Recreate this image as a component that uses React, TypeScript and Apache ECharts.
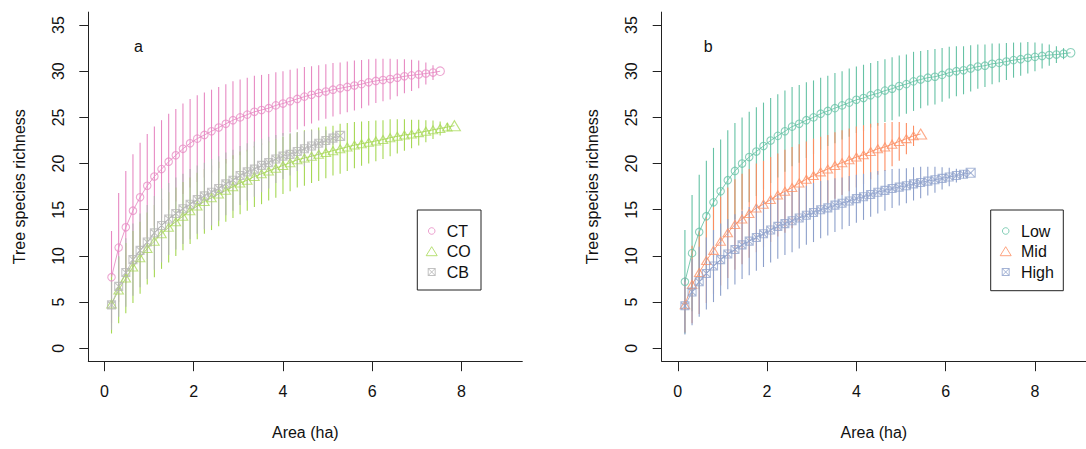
import React, { useEffect, useRef } from "react";
import * as echarts from "echarts";

// ---------- data ----------
const AREA_PER_PLOT_HA = 0.16;
const X_TICKS = [0, 2, 4, 6, 8];
const Y_TICKS = [0, 5, 10, 15, 20, 25, 30, 35];

// Panel a
const ctRichness = [7.7, 10.9, 13.1, 14.9, 16.35, 17.6, 18.6, 19.4, 20.2, 20.9,
  21.6, 22.2, 22.7, 23.1, 23.5, 23.9, 24.3, 24.7, 25.0, 25.3,
  25.6, 25.8, 26.0, 26.3, 26.5, 26.75, 27.0, 27.25, 27.45, 27.65,
  27.8, 28.0, 28.15, 28.3, 28.45, 28.6, 28.8, 28.95, 29.05, 29.15,
  29.3, 29.45, 29.55, 29.65, 29.75, 29.85, 30.0];
const ctCi = [5.0, 5.9, 6.1, 6.1, 5.9, 5.6, 5.4, 5.3, 5.2, 5.0,
  4.9, 4.8, 4.7, 4.6, 4.5, 4.4, 4.3, 4.2, 4.1, 4.0,
  3.9, 3.8, 3.7, 3.6, 3.5, 3.4, 3.3, 3.2, 3.1, 3.0,
  2.95, 2.9, 2.8, 2.75, 2.7, 2.6, 2.5, 2.4, 2.3, 2.2,
  2.0, 1.85, 1.7, 1.5, 1.2, 0.8, 0];

const coRichness = [4.8, 6.3, 7.6, 8.8, 9.8, 10.8, 11.6, 12.4, 13.1, 13.7,
  14.3, 14.9, 15.4, 15.9, 16.3, 16.7, 17.1, 17.5, 17.9, 18.2,
  18.6, 18.9, 19.2, 19.5, 19.8, 20.1, 20.4, 20.6, 20.8, 21.0,
  21.2, 21.4, 21.6, 21.8, 22.0, 22.15, 22.3, 22.45, 22.6, 22.8,
  22.95, 23.1, 23.2, 23.35, 23.5, 23.65, 23.8, 23.95, 24.1];
const coCi = [3.2, 3.6, 3.8, 3.9, 3.9, 3.9, 3.9, 3.8, 3.8, 3.7,
  3.7, 3.6, 3.6, 3.5, 3.5, 3.5, 3.4, 3.4, 3.4, 3.3,
  3.3, 3.3, 3.2, 3.2, 3.1, 3.1, 3.0, 3.0, 2.9, 2.9,
  2.8, 2.7, 2.7, 2.6, 2.5, 2.4, 2.3, 2.2, 2.1, 2.0,
  1.85, 1.7, 1.55, 1.4, 1.2, 1.0, 0.75, 0.45, 0];

const cbRichness = [4.7, 6.7, 8.2, 9.6, 10.6, 11.5, 12.5, 13.3, 14.0, 14.6,
  15.1, 15.6, 16.1, 16.5, 16.9, 17.3, 17.8, 18.2, 18.7, 19.1,
  19.4, 19.8, 20.1, 20.5, 20.8, 21.0, 21.3, 21.6, 21.9, 22.2,
  22.5, 22.75, 23.0];
const cbCi = [2.7, 3.3, 3.7, 3.9, 4.0, 4.0, 4.0, 4.0, 3.9, 3.9,
  3.8, 3.8, 3.7, 3.6, 3.6, 3.5, 3.4, 3.3, 3.2, 3.1,
  3.0, 2.9, 2.8, 2.6, 2.5, 2.3, 2.1, 1.9, 1.7, 1.4,
  1.1, 0.7, 0];

// Panel b
const lowRichness = [7.2, 10.3, 12.6, 14.3, 15.8, 17.0, 18.2, 19.2, 20.0, 20.7,
  21.3, 21.9, 22.5, 23.0, 23.5, 24.0, 24.3, 24.7, 25.0, 25.4,
  25.7, 26.0, 26.3, 26.6, 26.9, 27.1, 27.4, 27.6, 27.9, 28.1,
  28.4, 28.6, 28.9, 29.1, 29.3, 29.4, 29.6, 29.85, 30.0, 30.1,
  30.3, 30.5, 30.6, 30.8, 30.9, 31.05, 31.2, 31.3, 31.45, 31.55,
  31.65, 31.75, 31.8, 31.9, 32.0];
const lowCi = [5.6, 6.3, 6.2, 6.0, 5.9, 5.6, 5.4, 5.2, 5.0, 4.9,
  4.8, 4.7, 4.6, 4.5, 4.4, 4.3, 4.2, 4.1, 4.0, 3.9,
  3.8, 3.8, 3.7, 3.7, 3.6, 3.6, 3.5, 3.5, 3.4, 3.4,
  3.3, 3.2, 3.2, 3.1, 3.0, 3.0, 2.9, 2.8, 2.7, 2.6,
  2.5, 2.4, 2.3, 2.2, 2.1, 2.0, 1.9, 1.8, 1.7, 1.55,
  1.35, 1.15, 0.9, 0.6, 0];

const midRichness = [4.7, 6.9, 8.2, 9.5, 10.6, 11.6, 12.5, 13.4, 14.0, 14.6,
  15.2, 15.6, 16.1, 16.6, 17.0, 17.4, 17.9, 18.3, 18.7, 19.1,
  19.4, 19.8, 20.1, 20.4, 20.7, 20.95, 21.3, 21.6, 21.8, 22.1,
  22.4, 22.7, 23.0, 23.2];
const midCi = [3.0, 4.2, 4.5, 4.6, 4.7, 4.8, 4.9, 4.9, 4.9, 4.8,
  4.8, 4.7, 4.6, 4.5, 4.5, 4.4, 4.2, 4.1, 4.0, 3.8,
  3.7, 3.6, 3.5, 3.4, 3.3, 3.2, 3.0, 2.8, 2.6, 2.4,
  2.1, 1.7, 1.1, 0];

const highRichness = [4.6, 6.1, 7.2, 8.1, 8.9, 9.6, 10.2, 10.7, 11.2, 11.6,
  12.0, 12.4, 12.8, 13.2, 13.5, 13.8, 14.1, 14.4, 14.7, 15.0,
  15.2, 15.5, 15.7, 15.95, 16.2, 16.4, 16.65, 16.9, 17.1, 17.3,
  17.45, 17.6, 17.8, 17.95, 18.1, 18.25, 18.4, 18.55, 18.7, 18.85,
  19.0];
const highCi = [3.1, 3.6, 3.8, 3.9, 3.9, 3.9, 3.8, 3.8, 3.7, 3.7,
  3.6, 3.6, 3.5, 3.5, 3.4, 3.4, 3.3, 3.2, 3.2, 3.1,
  3.0, 2.9, 2.8, 2.7, 2.6, 2.5, 2.4, 2.3, 2.2, 2.1,
  2.0, 1.9, 1.8, 1.7, 1.55, 1.4, 1.2, 1.0, 0.75, 0.45,
  0];

// ---------- styles ----------
const FONT = 'Arial, "Liberation Sans", Helvetica, sans-serif';
const TEXT = "#111";
const SQUARE_X = "path://M0,0L10,0L10,10L0,10Z M0,0L10,10 M10,0L0,10";

type Group = { name: string; color: string; shape: "circle" | "triangle" | "squarex"; rich: number[]; ci: number[] };

const panelA: Group[] = [
  { name: "CT", color: "#E78AC3", shape: "circle", rich: ctRichness, ci: ctCi },
  { name: "CO", color: "#A6D854", shape: "triangle", rich: coRichness, ci: coCi },
  { name: "CB", color: "#B3B3B3", shape: "squarex", rich: cbRichness, ci: cbCi },
];
const panelB: Group[] = [
  { name: "Low", color: "#66C2A5", shape: "circle", rich: lowRichness, ci: lowCi },
  { name: "Mid", color: "#FC8D62", shape: "triangle", rich: midRichness, ci: midCi },
  { name: "High", color: "#8DA0CB", shape: "squarex", rich: highRichness, ci: highCi },
];

function alpha(hex: string, a: number) {
  const r = parseInt(hex.slice(1, 3), 16), g = parseInt(hex.slice(3, 5), 16), b = parseInt(hex.slice(5, 7), 16);
  return `rgba(${r},${g},${b},${a})`;
}

function symbolOf(shape: string) {
  if (shape === "circle") return "circle";
  if (shape === "triangle") return "triangle";
  return SQUARE_X;
}
function sizeOf(shape: string, last: boolean): number | number[] {
  if (shape === "circle") return last ? 8.5 : 7.5;
  if (shape === "triangle") return last ? [12, 10] : [9.5, 8];
  return last ? 9 : 8;
}

function seriesFor(groups: Group[], axis: number) {
  const out: any[] = [];
  groups.forEach((g) => {
    const xs = g.rich.map((_, i) => +(AREA_PER_PLOT_HA * (i + 1)).toFixed(3));
    const n = g.rich.length;
    out.push({
      type: "custom",
      name: g.name + " CI",
      xAxisIndex: axis,
      yAxisIndex: axis,
      silent: true,
      encode: { x: 0, y: [1, 2] },
      data: g.rich.map((v, i) => [xs[i], v - g.ci[i], v + g.ci[i]]),
      renderItem: (params: any, api: any) => {
        const p1 = api.coord([api.value(0), api.value(1)]);
        const p2 = api.coord([api.value(0), api.value(2)]);
        return {
          type: "line",
          shape: { x1: p1[0], y1: p1[1], x2: p2[0], y2: p2[1] },
          style: { stroke: g.color, lineWidth: 1.1, opacity: 1 },
        };
      },
    });
    out.push({
      type: "line",
      name: g.name,
      xAxisIndex: axis,
      yAxisIndex: axis,
      silent: true,
      data: g.rich.map((v, i) => [xs[i], v]),
      showAllSymbol: true,
      symbol: symbolOf(g.shape),
      symbolSize: (_v: any, p: any) => sizeOf(g.shape, p.dataIndex === n - 1),
      lineStyle: { color: g.color, width: 1, opacity: 0.85 },
      itemStyle: { color: "rgba(0,0,0,0)", borderColor: alpha(g.color, 0.75), borderWidth: 1.1 },
      emphasis: { disabled: true },
    });
  });
  return out;
}

function legendGraphic(box: { x: number; y: number; w: number; h: number }, symX: number, textX: number, rows: number[], groups: Group[]) {
  const children: any[] = [
    { type: "rect", shape: { x: box.x, y: box.y, width: box.w, height: box.h }, style: { fill: "#fff", stroke: "#222", lineWidth: 1 } },
  ];
  groups.forEach((g, i) => {
    const cy = rows[i];
    const st = { fill: "none", stroke: alpha(g.color, 0.8), lineWidth: 1 };
    if (g.shape === "circle") {
      children.push({ type: "circle", shape: { cx: symX, cy, r: 3.3 }, style: st });
    } else if (g.shape === "triangle") {
      children.push({ type: "polygon", shape: { points: [[symX, cy - 5], [symX + 5.5, cy + 4], [symX - 5.5, cy + 4]] }, style: st });
    } else {
      children.push({ type: "rect", shape: { x: symX - 3.5, y: cy - 3.5, width: 7, height: 7 }, style: st });
      children.push({ type: "line", shape: { x1: symX - 3.5, y1: cy - 3.5, x2: symX + 3.5, y2: cy + 3.5 }, style: st });
      children.push({ type: "line", shape: { x1: symX + 3.5, y1: cy - 3.5, x2: symX - 3.5, y2: cy + 3.5 }, style: st });
    }
    children.push({
      type: "text",
      x: textX,
      y: cy,
      style: { text: g.name, fill: TEXT, fontSize: 16, fontFamily: FONT, align: "left", verticalAlign: "middle" },
    });
  });
  return { type: "group", silent: true, children };
}

function xAxisCfg(grid: number, max: number) {
  return {
    type: "value",
    gridIndex: grid,
    min: -0.36,
    max,
    name: "Area (ha)",
    nameLocation: "middle",
    nameGap: 63,
    nameTextStyle: { fontSize: 16, color: TEXT, fontFamily: FONT },
    axisLine: { show: true, onZero: false, lineStyle: { color: "#222", width: 1 } },
    axisTick: { show: true, length: 10, customValues: X_TICKS, lineStyle: { color: "#222" } },
    axisLabel: { customValues: X_TICKS, fontSize: 16, color: TEXT, fontFamily: FONT, margin: 22 },
    splitLine: { show: false },
  };
}
function yAxisCfg(grid: number) {
  return {
    type: "value",
    gridIndex: grid,
    min: -1.4,
    max: 36.4,
    name: "Tree species richness",
    nameLocation: "middle",
    nameGap: 61,
    nameTextStyle: { fontSize: 16, color: TEXT, fontFamily: FONT },
    axisLine: { show: true, onZero: false, lineStyle: { color: "#222", width: 1 } },
    axisTick: { show: true, length: 9, customValues: Y_TICKS, lineStyle: { color: "#222" } },
    axisLabel: { customValues: Y_TICKS, rotate: 90, fontSize: 16, color: TEXT, fontFamily: FONT, margin: 22 },
    splitLine: { show: false },
  };
}

export default function App() {
  const ref = useRef<HTMLDivElement>(null);
  useEffect(() => {
    if (!ref.current) return;
    const chart = echarts.init(ref.current, null, { renderer: "svg" });
    const option: any = {
      animation: false,
      backgroundColor: "#fff",
      textStyle: { fontFamily: FONT },
      grid: [
        { left: 88.3, right: 1086 - 522.3, top: 12.1, bottom: 449 - 361.2 },
        { left: 661.7, right: 0, top: 12.1, bottom: 449 - 361.2 },
      ],
      xAxis: [xAxisCfg(0, 9.36), xAxisCfg(1, 9.143)],
      yAxis: [yAxisCfg(0), yAxisCfg(1)],
      series: [...seriesFor(panelA, 0), ...seriesFor(panelB, 1)],
      graphic: [
        { type: "text", x: 138.4, y: 46.7, silent: true, style: { text: "a", fontSize: 16, fontFamily: FONT, fill: TEXT, align: "center", verticalAlign: "middle" } },
        { type: "text", x: 708.3, y: 46.7, silent: true, style: { text: "b", fontSize: 16, fontFamily: FONT, fill: TEXT, align: "center", verticalAlign: "middle" } },
        legendGraphic({ x: 417.3, y: 210, w: 63.7, h: 80 }, 431.7, 446.7, [231, 251.7, 272], panelA),
        legendGraphic({ x: 990.7, y: 210, w: 72.6, h: 80.7 }, 1005.7, 1021, [231, 251.7, 272], panelB),
      ],
    };
    chart.setOption(option);
    return () => chart.dispose();
  }, []);
  return (
    <div
      ref={ref}
      style={{ position: "fixed", left: 0, top: 0, width: 1086, height: 449, background: "#fff" }}
    />
  );
}
